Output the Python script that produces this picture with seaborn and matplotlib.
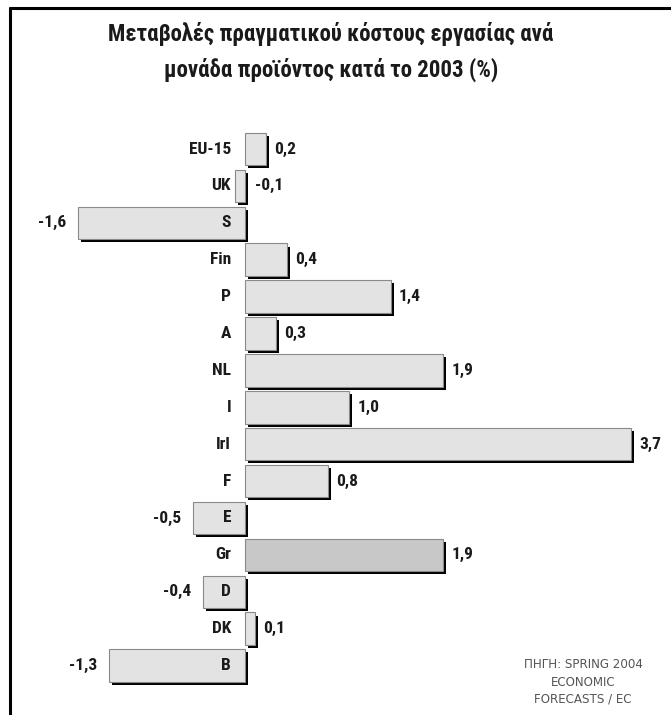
import numpy as np
import pandas as pd
import matplotlib
matplotlib.use("Agg")
import matplotlib.pyplot as plt
import matplotlib.patheffects as pe
from matplotlib import font_manager
from matplotlib.lines import Line2D
import seaborn as sns

countries = ["EU-15", "UK", "S", "Fin", "P", "A", "NL", "I", "Irl", "F", "E", "Gr", "D", "DK", "B"]
values = [0.2, -0.1, -1.6, 0.4, 1.4, 0.3, 1.9, 1.0, 3.7, 0.8, -0.5, 1.9, -0.4, 0.1, -1.3]
value_labels = ["0,2", "-0,1", "-1,6", "0,4", "1,4", "0,3", "1,9", "1,0", "3,7", "0,8", "-0,5", "1,9", "-0,4", "0,1", "-1,3"]
highlight = "Gr"

title = "Μεταβολές πραγματικού κόστους εργασίας ανά\nμονάδα προϊόντος κατά το 2003 (%)"
source = "ΠΗΓΗ: SPRING 2004\nECONOMIC\nFORECASTS / EC"

sns.set_style("white")
installed = sorted({f.name for f in font_manager.fontManager.ttflist})
FONT = [f for f in ["Liberation Sans Narrow", "DejaVu Sans Condensed", "Roboto Condensed",
                    "Open Sans Condensed"] if f in installed] + ["DejaVu Sans"]
plt.rcParams["font.family"] = FONT

df = pd.DataFrame({"country": countries, "value": values})
colors = {c: ("#c8c8c8" if c == highlight else "#e3e3e3") for c in countries}

fig = plt.figure(figsize=(6.71, 7.15), dpi=100)
ax = fig.add_axes([0, 0, 1, 1])

sns.barplot(data=df, x="value", y="country", hue="country", palette=colors,
            orient="h", width=0.88, legend=False, ax=ax,
            edgecolor="#8a8a8a", linewidth=0.8)

shadow = [pe.SimplePatchShadow(offset=(2.2, -2.2), shadow_rgbFace="black", alpha=1.0), pe.Normal()]
for p in ax.patches:
    p.set_path_effects(shadow)

# map pixels: zero at x=245, 104.3 px per unit; first bar at y=149, 36.9 px apart
ax.set_xlim(-245 / 104.3, (671 - 245) / 104.3)
ax.set_ylim((715 - 149) / 36.9, -149 / 36.9)
ax.axis("off")

lab_kw = dict(va="center", fontsize=12.5, fontweight="bold", color="#1a1a1a")
for i, (c, v, lab) in enumerate(zip(countries, values, value_labels)):
    ax.annotate(c, (0, i), xytext=(-14, 0), textcoords="offset pixels", ha="right", **lab_kw)
    if v >= 0:
        ax.annotate(lab, (v, i), xytext=(8, 0), textcoords="offset pixels", ha="left", **lab_kw)
    elif c == "UK":
        ax.annotate(lab, (0, i), xytext=(10, 0), textcoords="offset pixels", ha="left", **lab_kw)
    else:
        ax.annotate(lab, (v, i), xytext=(-12, 0), textcoords="offset pixels", ha="right", **lab_kw)

fig.text(331 / 671, 1 - 52 / 715, title, ha="center", va="center", fontsize=16.5,
         fontweight="bold", color="#1a1a1a", linespacing=1.6)
fig.text(583 / 671, 1 - 682 / 715, source, ha="center", va="center", fontsize=8.6,
         color="#555555", linespacing=1.45, family="DejaVu Sans")

# frame around the graphic (left and top)
fx0, fy = 10 / 671, 1 - 8 / 715
for xs, ys in [([fx0, fx0], [0, fy]), ([fx0, 1], [fy, fy])]:
    fig.add_artist(Line2D(xs, ys, color="black", linewidth=2.2, transform=fig.transFigure))

fig.savefig("out.png", dpi=100)
